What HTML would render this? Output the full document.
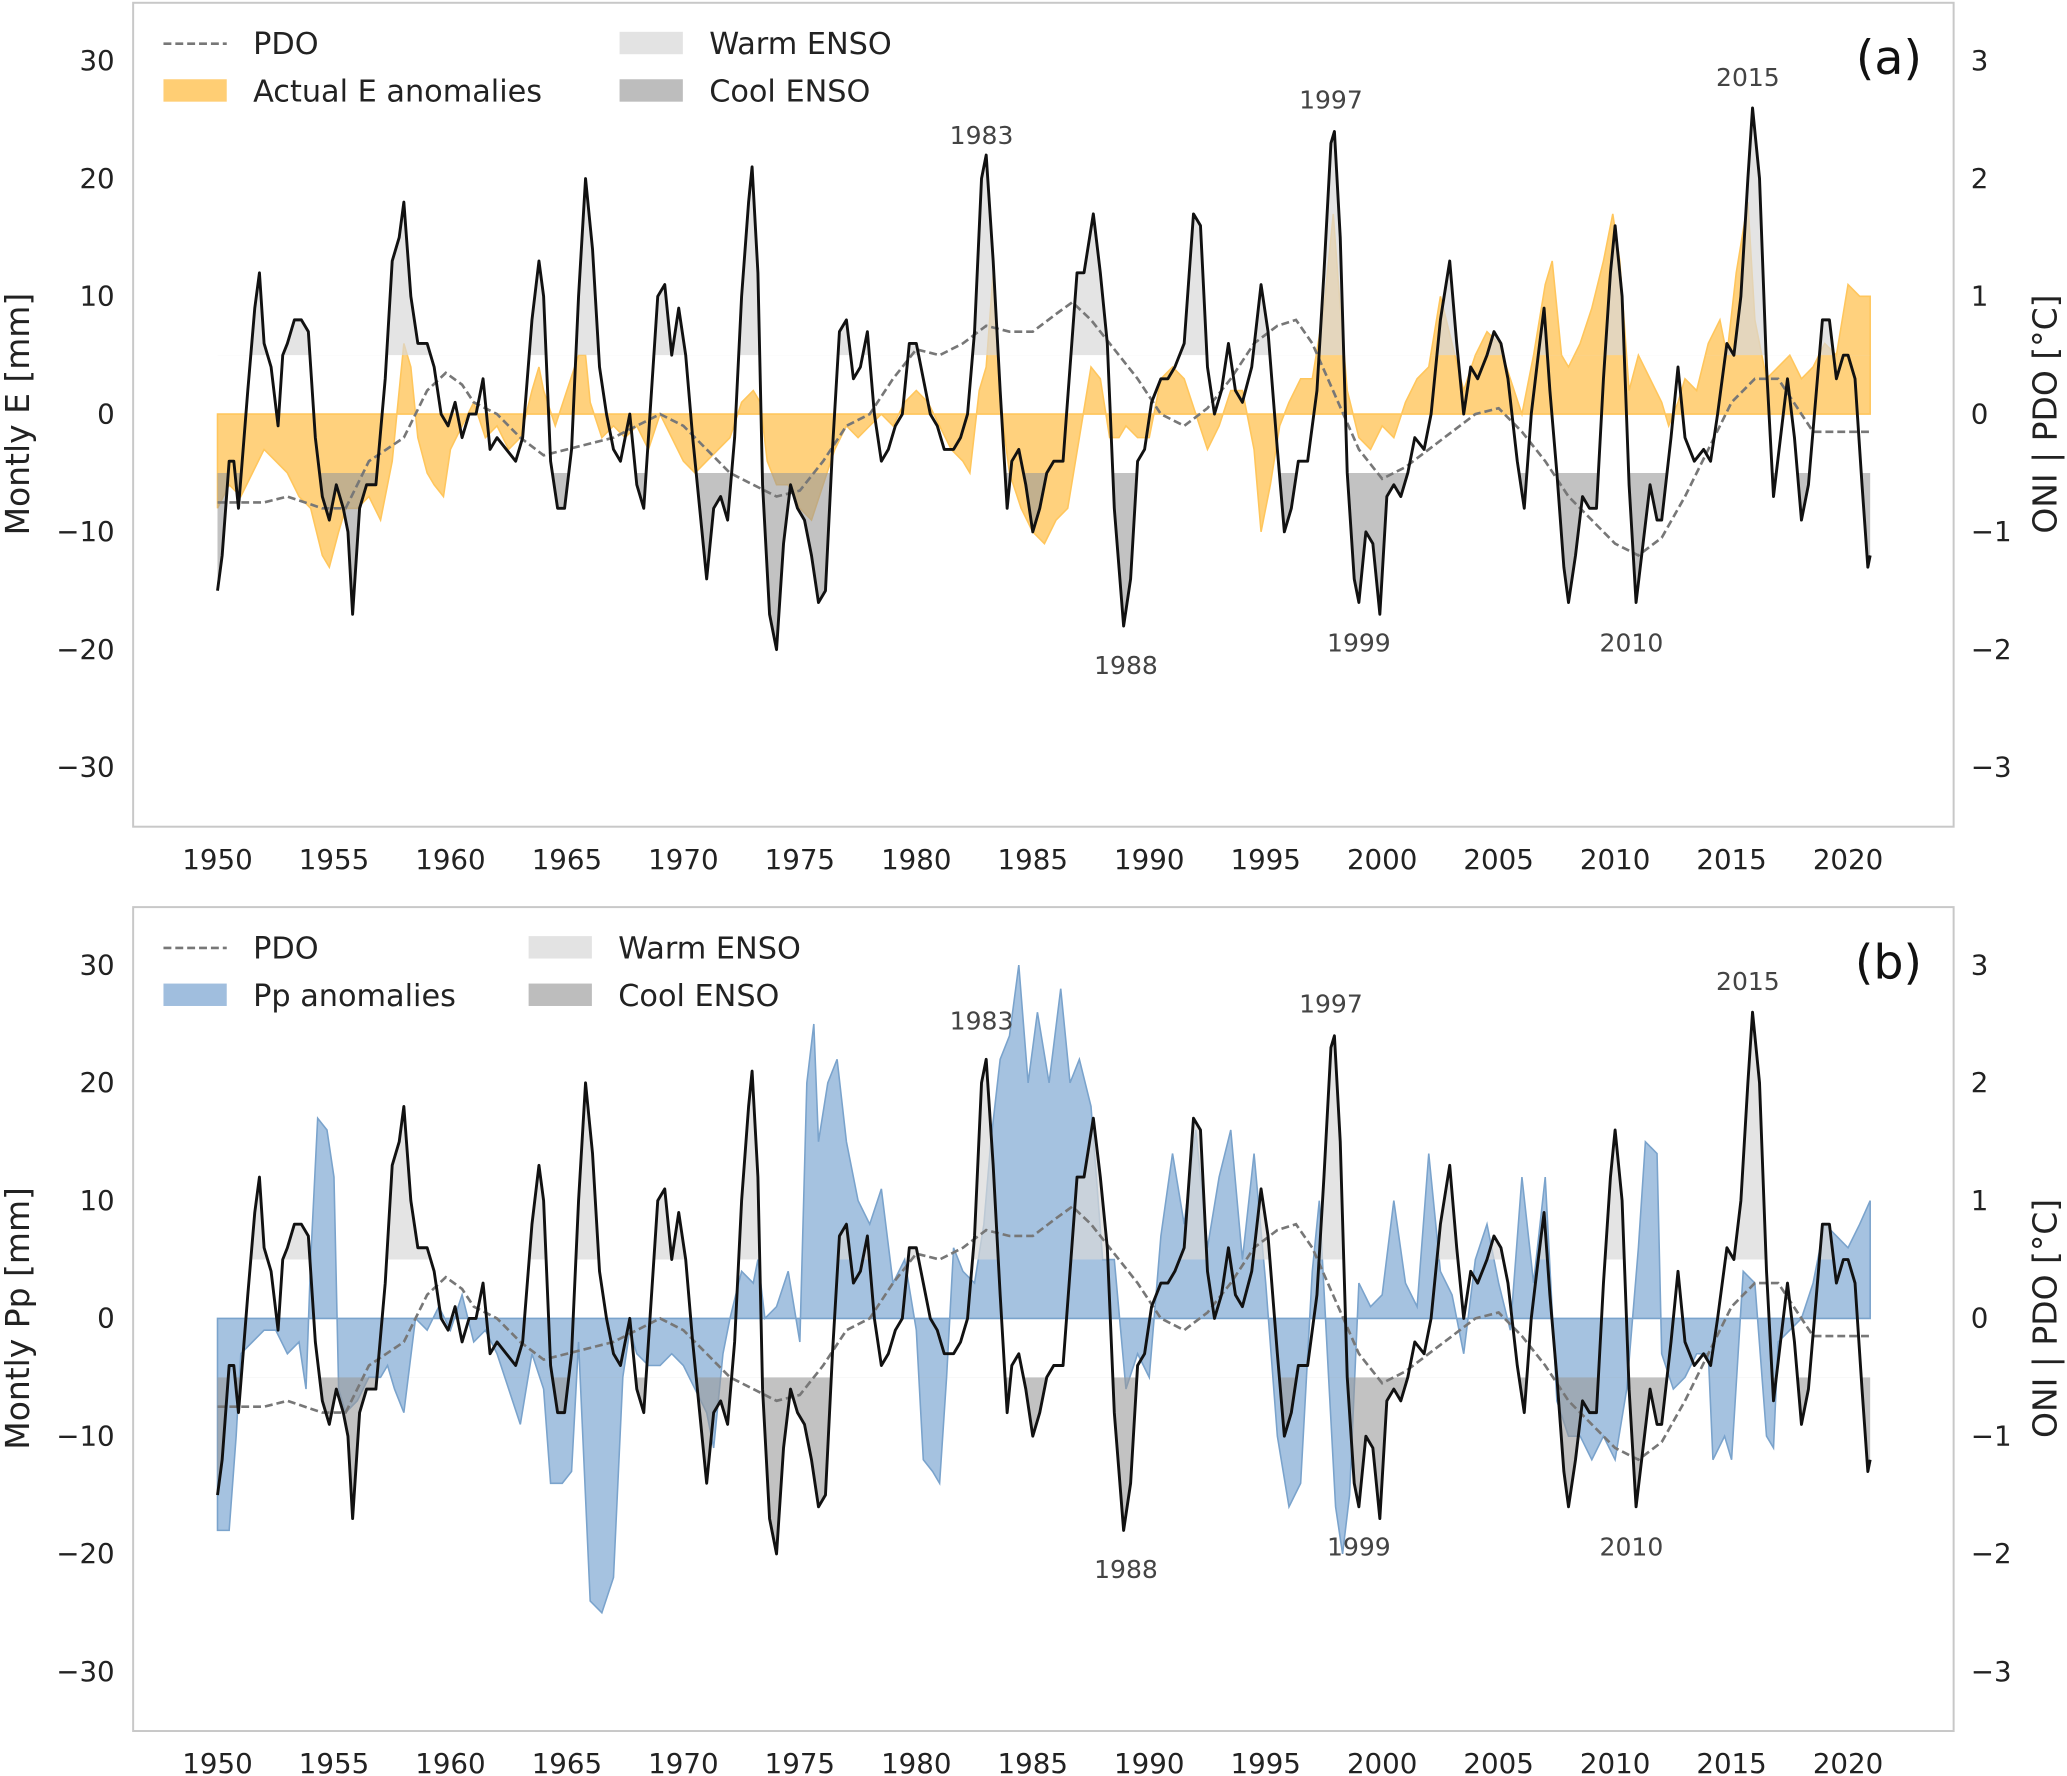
<!DOCTYPE html>
<html><head><meta charset="utf-8">
<style>
html,body{margin:0;padding:0;background:#fff}
svg{display:block;font-family:"DejaVu Sans","Liberation Sans",sans-serif}
</style></head>
<body>
<svg id="chart" width="2067" height="1776" viewBox="0 0 1568 1347" xmlns="http://www.w3.org/2000/svg"></svg>
<script>
const xTicks=[1950,1955,1960,1965,1970,1975,1980,1985,1990,1995,2000,2005,2010,2015,2020];
const yTicks=[-30,-20,-10,0,10,20,30];
const y2Ticks=[-3,-2,-1,0,1,2,3];
const oniT=[1950.0,1950.2,1950.5,1950.7,1950.9,1951.3,1951.6,1951.8,1952.0,1952.3,1952.6,1952.8,1953.0,1953.3,1953.6,1953.9,1954.2,1954.5,1954.8,1955.1,1955.4,1955.6,1955.8,1956.1,1956.4,1956.8,1957.2,1957.5,1957.8,1958.0,1958.3,1958.6,1959.0,1959.3,1959.6,1959.9,1960.2,1960.5,1960.8,1961.1,1961.4,1961.7,1962.0,1962.4,1962.8,1963.1,1963.5,1963.8,1964.0,1964.3,1964.6,1964.9,1965.2,1965.5,1965.8,1966.1,1966.4,1966.7,1967.0,1967.3,1967.7,1968.0,1968.3,1968.6,1968.9,1969.2,1969.5,1969.8,1970.1,1970.4,1970.7,1971.0,1971.3,1971.6,1971.9,1972.2,1972.5,1972.8,1972.95,1973.2,1973.4,1973.7,1974.0,1974.3,1974.6,1974.9,1975.2,1975.5,1975.8,1976.1,1976.4,1976.7,1977.0,1977.3,1977.6,1977.9,1978.2,1978.5,1978.8,1979.1,1979.4,1979.7,1980.0,1980.3,1980.6,1980.9,1981.2,1981.6,1981.9,1982.2,1982.5,1982.8,1983.0,1983.3,1983.6,1983.9,1984.1,1984.4,1984.7,1985.0,1985.3,1985.6,1985.9,1986.3,1986.6,1986.9,1987.2,1987.6,1987.9,1988.2,1988.5,1988.7,1988.9,1989.2,1989.5,1989.8,1990.1,1990.5,1990.8,1991.1,1991.5,1991.9,1992.2,1992.5,1992.8,1993.1,1993.4,1993.7,1994.0,1994.4,1994.8,1995.1,1995.5,1995.8,1996.1,1996.4,1996.8,1997.2,1997.5,1997.8,1997.95,1998.2,1998.5,1998.8,1999.0,1999.3,1999.6,1999.9,2000.2,2000.5,2000.8,2001.1,2001.4,2001.8,2002.1,2002.5,2002.9,2003.2,2003.5,2003.8,2004.1,2004.5,2004.8,2005.1,2005.4,2005.8,2006.1,2006.4,2006.7,2006.95,2007.2,2007.5,2007.8,2008.0,2008.3,2008.6,2008.9,2009.2,2009.5,2009.8,2010.0,2010.3,2010.6,2010.9,2011.2,2011.5,2011.8,2012.0,2012.4,2012.7,2013.0,2013.4,2013.8,2014.1,2014.4,2014.8,2015.1,2015.4,2015.7,2015.9,2016.2,2016.5,2016.8,2017.1,2017.4,2017.7,2018.0,2018.3,2018.6,2018.9,2019.2,2019.5,2019.8,2020.0,2020.3,2020.6,2020.85,2020.95];
const oniV=[-1.5,-1.2,-0.4,-0.4,-0.8,0.2,0.9,1.2,0.6,0.4,-0.1,0.5,0.6,0.8,0.8,0.7,-0.2,-0.7,-0.9,-0.6,-0.8,-1.0,-1.7,-0.8,-0.6,-0.6,0.3,1.3,1.5,1.8,1.0,0.6,0.6,0.4,0.0,-0.1,0.1,-0.2,0.0,0.0,0.3,-0.3,-0.2,-0.3,-0.4,-0.2,0.8,1.3,1.0,-0.4,-0.8,-0.8,-0.3,1.0,2.0,1.4,0.4,0.0,-0.3,-0.4,0.0,-0.6,-0.8,0.1,1.0,1.1,0.5,0.9,0.5,-0.2,-0.8,-1.4,-0.8,-0.7,-0.9,-0.2,1.0,1.8,2.1,1.2,-0.6,-1.7,-2.0,-1.1,-0.6,-0.8,-0.9,-1.2,-1.6,-1.5,-0.3,0.7,0.8,0.3,0.4,0.7,0.0,-0.4,-0.3,-0.1,0.0,0.6,0.6,0.3,0.0,-0.1,-0.3,-0.3,-0.2,0.0,0.7,2.0,2.2,1.3,0.2,-0.8,-0.4,-0.3,-0.6,-1.0,-0.8,-0.5,-0.4,-0.4,0.4,1.2,1.2,1.7,1.2,0.6,-0.8,-1.3,-1.8,-1.4,-0.4,-0.3,0.1,0.3,0.3,0.4,0.6,1.7,1.6,0.4,0.0,0.2,0.6,0.2,0.1,0.4,1.1,0.7,-0.3,-1.0,-0.8,-0.4,-0.4,0.2,1.2,2.3,2.4,1.5,-0.5,-1.4,-1.6,-1.0,-1.1,-1.7,-0.7,-0.6,-0.7,-0.5,-0.2,-0.3,0.0,0.8,1.3,0.6,0.0,0.4,0.3,0.5,0.7,0.6,0.3,-0.4,-0.8,0.0,0.5,0.9,0.2,-0.5,-1.3,-1.6,-1.2,-0.7,-0.8,-0.8,0.3,1.2,1.6,1.0,-0.6,-1.6,-1.1,-0.6,-0.9,-0.9,-0.2,0.4,-0.2,-0.4,-0.3,-0.4,0.0,0.6,0.5,1.0,2.0,2.6,2.0,0.4,-0.7,-0.2,0.3,-0.2,-0.9,-0.6,0.1,0.8,0.8,0.3,0.5,0.5,0.3,-0.6,-1.3,-1.2];
const pdoT=[1950,1952,1953,1954.5,1955.5,1956.5,1958,1959,1959.8,1960.5,1961,1962,1963,1964,1965,1966,1967,1968,1969,1970,1971,1972,1973,1974,1975,1976,1977,1978,1979,1980,1981,1982,1983,1984,1985,1986,1986.7,1987.5,1988.5,1989.5,1990.5,1991.5,1992.5,1993.5,1994.5,1995.5,1996.3,1997,1998,1999,2000,2001,2002,2003,2004,2005,2006,2007,2008,2009,2010,2011,2012,2013,2014,2015,2016,2017,2018,2018.5,2019,2021];
const pdoV=[-0.75,-0.75,-0.7,-0.8,-0.8,-0.4,-0.2,0.2,0.35,0.25,0.1,0.0,-0.2,-0.35,-0.3,-0.25,-0.2,-0.1,0.0,-0.1,-0.3,-0.5,-0.6,-0.7,-0.65,-0.4,-0.1,0.0,0.3,0.55,0.5,0.6,0.75,0.7,0.7,0.85,0.95,0.8,0.55,0.3,0.0,-0.1,0.05,0.3,0.6,0.75,0.8,0.6,0.15,-0.3,-0.55,-0.45,-0.3,-0.15,0.0,0.05,-0.15,-0.4,-0.7,-0.9,-1.1,-1.2,-1.05,-0.7,-0.3,0.1,0.3,0.3,0.0,-0.15,-0.15,-0.15];
const eT=[1950,1950.5,1951,1951.5,1952,1952.5,1953,1953.5,1954,1954.5,1954.8,1955.2,1955.5,1956,1956.5,1957,1957.5,1957.8,1958,1958.3,1958.6,1959,1959.3,1959.7,1960,1960.5,1961,1961.5,1962,1962.5,1963,1963.5,1963.8,1964,1964.5,1965,1965.5,1965.8,1966,1966.5,1967,1967.5,1968,1968.5,1969,1969.5,1970,1970.5,1971,1971.5,1972,1972.5,1973,1973.3,1973.6,1974,1974.5,1975,1975.5,1976,1976.5,1977,1977.5,1978,1978.5,1979,1979.5,1980,1980.5,1981,1981.5,1982,1982.3,1982.7,1983,1983.3,1983.6,1984,1984.5,1985,1985.5,1986,1986.5,1987,1987.5,1987.9,1988.3,1988.7,1989,1989.5,1990,1990.5,1991,1991.5,1992,1992.5,1993,1993.5,1994,1994.5,1994.8,1995.2,1995.6,1996,1996.5,1997,1997.5,1997.9,1998.2,1998.5,1999,1999.5,2000,2000.5,2001,2001.5,2002,2002.5,2003,2003.5,2004,2004.5,2005,2005.5,2006,2006.5,2007,2007.3,2007.7,2008,2008.5,2009,2009.5,2009.9,2010.2,2010.6,2011,2011.5,2012,2012.3,2012.7,2013,2013.5,2014,2014.5,2014.8,2015.2,2015.7,2016,2016.5,2017,2017.5,2018,2018.5,2019,2019.5,2020,2020.5,2020.95];
const eV=[-8,-6,-7,-5,-3,-4,-5,-7,-8,-12,-13,-10,-8,-8,-7,-9,-4,2,6,4,-2,-5,-6,-7,-3,-1,1,-2,-1,-3,-2,2,4,2,-1,2,5,5,1,-2,-1,-2,-1,-3,0,-2,-4,-5,-4,-3,-2,1,2,1,-4,-6,-6,-8,-9,-6,-3,-1,-2,-1,0,-1,1,2,1,-1,-3,-4,-5,2,4,12,1,-5,-8,-10,-11,-9,-8,-2,4,3,-2,-2,-1,-2,-2,3,4,3,0,-3,-1,2,2,-3,-10,-6,-1,1,3,3,9,17,9,2,-2,-3,-1,-2,1,3,4,10,6,2,5,7,6,3,0,5,11,13,5,4,6,9,13,17,13,2,5,3,1,-1,1,3,2,6,8,5,12,18,8,3,4,5,3,4,6,5,11,10,10];
const pT=[1950,1950.5,1950.8,1951,1951.5,1952,1952.5,1953,1953.5,1953.8,1954,1954.3,1954.7,1955,1955.2,1955.5,1956,1956.5,1957,1957.3,1957.6,1958,1958.5,1959,1959.5,1960,1960.5,1961,1961.5,1962,1962.5,1963,1963.5,1964,1964.3,1964.8,1965.2,1965.5,1966,1966.5,1967,1967.4,1967.7,1968,1968.5,1969,1969.5,1970,1970.5,1971,1971.3,1971.7,1972,1972.5,1973,1973.2,1973.5,1974,1974.5,1975,1975.3,1975.6,1975.8,1976.2,1976.6,1977,1977.5,1978,1978.5,1979,1979.5,1980,1980.3,1980.7,1981,1981.3,1981.6,1982,1982.5,1982.9,1983.2,1983.6,1984,1984.4,1984.8,1985.2,1985.7,1986.2,1986.6,1987,1987.5,1988,1988.5,1989,1989.5,1990,1990.5,1991,1991.5,1992,1992.5,1993,1993.5,1994,1994.5,1995,1995.5,1996,1996.5,1997,1997.3,1997.7,1998,1998.3,1998.6,1999,1999.5,2000,2000.5,2001,2001.5,2002,2002.5,2003,2003.5,2004,2004.5,2005,2005.5,2006,2006.5,2007,2007.5,2008,2008.5,2009,2009.5,2010,2010.5,2011,2011.3,2011.8,2012,2012.5,2013,2013.5,2014,2014.2,2014.7,2015,2015.5,2016,2016.5,2016.8,2017,2017.5,2018,2018.5,2019,2019.5,2020,2020.5,2020.95];
const pV=[-18,-18,-10,-3,-2,-1,-1,-3,-2,-6,5,17,16,12,-6,-8,-7,-5,-5,-4,-6,-8,0,-1,1,-1,2,-2,-1,-3,-6,-9,-3,-6,-14,-14,-13,-2,-24,-25,-22,-5,-1,-3,-4,-4,-3,-4,-6,-8,-11,-3,0,4,3,5,0,1,4,-2,20,25,15,20,22,15,10,8,11,3,5,-1,-12,-13,-14,-5,6,4,3,8,15,22,24,30,20,26,20,28,20,22,18,5,5,-6,-3,-5,7,14,8,16,6,12,16,5,14,3,-10,-16,-14,4,10,-5,-16,-20,-15,3,1,2,10,3,1,14,4,2,-3,5,8,3,-1,12,3,12,-7,-10,-10,-12,-10,-12,-6,6,15,14,-3,-6,-5,-3,-3,-12,-10,-12,4,3,-10,-11,-2,-1,0,3,8,7,6,8,10];
const yearLabels=["1983","1997","2015","1988","1999","2010"];
const yearLabelT=[1982.8,1997.8,2015.7,1989.0,1999.0,2010.7];
const yearLabelA=[[101,null],[74,null],[57,null],[503,null],[486,null],[486,null]];

const NS="http://www.w3.org/2000/svg";
const svg=document.getElementById('chart');
function el(tag,attrs,parent){const e=document.createElementNS(NS,tag);for(const k in attrs)e.setAttribute(k,attrs[k]);(parent||svg).appendChild(e);return e;}
const X=t=>165+(t-1950)*17.67;

function panel(top,key,anomT,anomV,fill,stroke,label,ylab,tag){
  const y0=top+312, k=268/30;
  const Y=v=>y0-v*k;
  const g=el('g',{});
  
  
  const frame=el('rect',{x:101,y:top,width:1381,height:625,fill:'none',stroke:'#c8c8c8','stroke-width':1.5},g);
  
  xTicks.forEach(t=>{const tx=el('text',{x:X(t),y:top+657,'text-anchor':'middle','font-size':21,fill:'#222'},g);tx.textContent=t;
    });
  yTicks.forEach(v=>{const tx=el('text',{x:87,y:Y(v)+7,'text-anchor':'end','font-size':21,fill:'#222'},g);tx.textContent=(v<0?'\u2212'+(-v):v);
    });
  y2Ticks.forEach(v=>{const tx=el('text',{x:1495,y:Y(v*10)+7,'text-anchor':'start','font-size':21,fill:'#222'},g);tx.textContent=(v<0?'\u2212'+(-v):v);
    });
  const yl=el('text',{transform:`translate(22,${y0}) rotate(-90)`,'text-anchor':'middle','font-size':25,fill:'#222'},g);yl.textContent=ylab;
  
  const yl2=el('text',{transform:`translate(1560,${y0}) rotate(-90)`,'text-anchor':'middle','font-size':25,fill:'#222'},g);yl2.textContent='ONI | PDO [°C]';
  
  let d=`M${X(anomT[0])},${Y(0)}`;anomT.forEach((t,i)=>d+=`L${X(t)},${Y(anomV[i])}`);d+=`L${X(anomT[anomT.length-1])},${Y(0)}Z`;
  const af=el('path',{d:d,fill:fill,stroke:stroke,'stroke-width':1.2,'fill-opacity':0.8},g);
  
  const id='c'+key;
  const defs=el('defs',{},g);
  const cw=el('clipPath',{id:id+'w'},defs);el('rect',{x:101,y:top,width:1381,height:Y(5)-top},cw);
  const cc=el('clipPath',{id:id+'c'},defs);el('rect',{x:101,y:Y(-5),width:1381,height:top+625-Y(-5)},cc);
  let line='';oniT.forEach((t,i)=>line+=(i?'L':'M')+X(t)+','+Y(oniV[i]*10));
  const wf=el('path',{d:`M${X(oniT[0])},${Y(5)}`+line.replace(/^M/,'L')+`L${X(oniT[oniT.length-1])},${Y(5)}Z`,fill:'#d9d9d9','fill-opacity':0.7,'clip-path':`url(#${id}w)`},g);
  
  const cf=el('path',{d:`M${X(oniT[0])},${Y(-5)}`+line.replace(/^M/,'L')+`L${X(oniT[oniT.length-1])},${Y(-5)}Z`,fill:'#9a9a9a','fill-opacity':0.6,'clip-path':`url(#${id}c)`},g);
  
  let pd='';pdoT.forEach((t,i)=>pd+=(i?'L':'M')+X(t)+','+Y(pdoV[i]*10));
  const pl=el('path',{d:pd,fill:'none',stroke:'#777','stroke-width':2,'stroke-dasharray':'6,3'},g);
  
  const ol=el('path',{d:line,fill:'none',stroke:'#111','stroke-width':2.2,'stroke-linejoin':'round'},g);
  
  yearLabels.forEach((s,i)=>{let yy=top+yearLabelA[i][0];if(key==='b'&&i===0)yy-=14;
    const tx=el('text',{x:X(yearLabelT[i]),y:yy+6,'text-anchor':'middle','font-size':19,fill:'#444'},g);tx.textContent=s;
    });
  const pt=el('text',{x:1458,y:top+54,'text-anchor':'end','font-size':36,fill:'#111'},g);pt.textContent=tag;
  
  const lg=el('g',{},g);
  const c2=key==='a'?470:401;
  el('line',{x1:124,y1:top+31,x2:172,y2:top+31,stroke:'#777','stroke-width':2,'stroke-dasharray':'6,3'},lg);
  el('rect',{x:124,y:top+58,width:48,height:17,fill:fill,'fill-opacity':0.85},lg);
  el('rect',{x:c2,y:top+22,width:48,height:17,fill:'#e3e3e3'},lg);
  el('rect',{x:c2,y:top+58,width:48,height:17,fill:'#bdbdbd'},lg);
  [[192,top+39,'PDO'],[192,top+75,label],[c2+68,top+39,'Warm ENSO'],[c2+68,top+75,'Cool ENSO']].forEach(a=>{
    const tx=el('text',{x:a[0],y:a[1],'font-size':23,fill:'#222'},lg);tx.textContent=a[2];
    });
}
panel(2,'a',eT,eV,'#ffc65c','#ffc65c','Actual E anomalies','Montly E [mm]','(a)');
panel(688,'b',pT,pV,'#8fb3d8','#7aa3cc','Pp anomalies','Montly Pp [mm]','(b)');
</script>
</body></html>
